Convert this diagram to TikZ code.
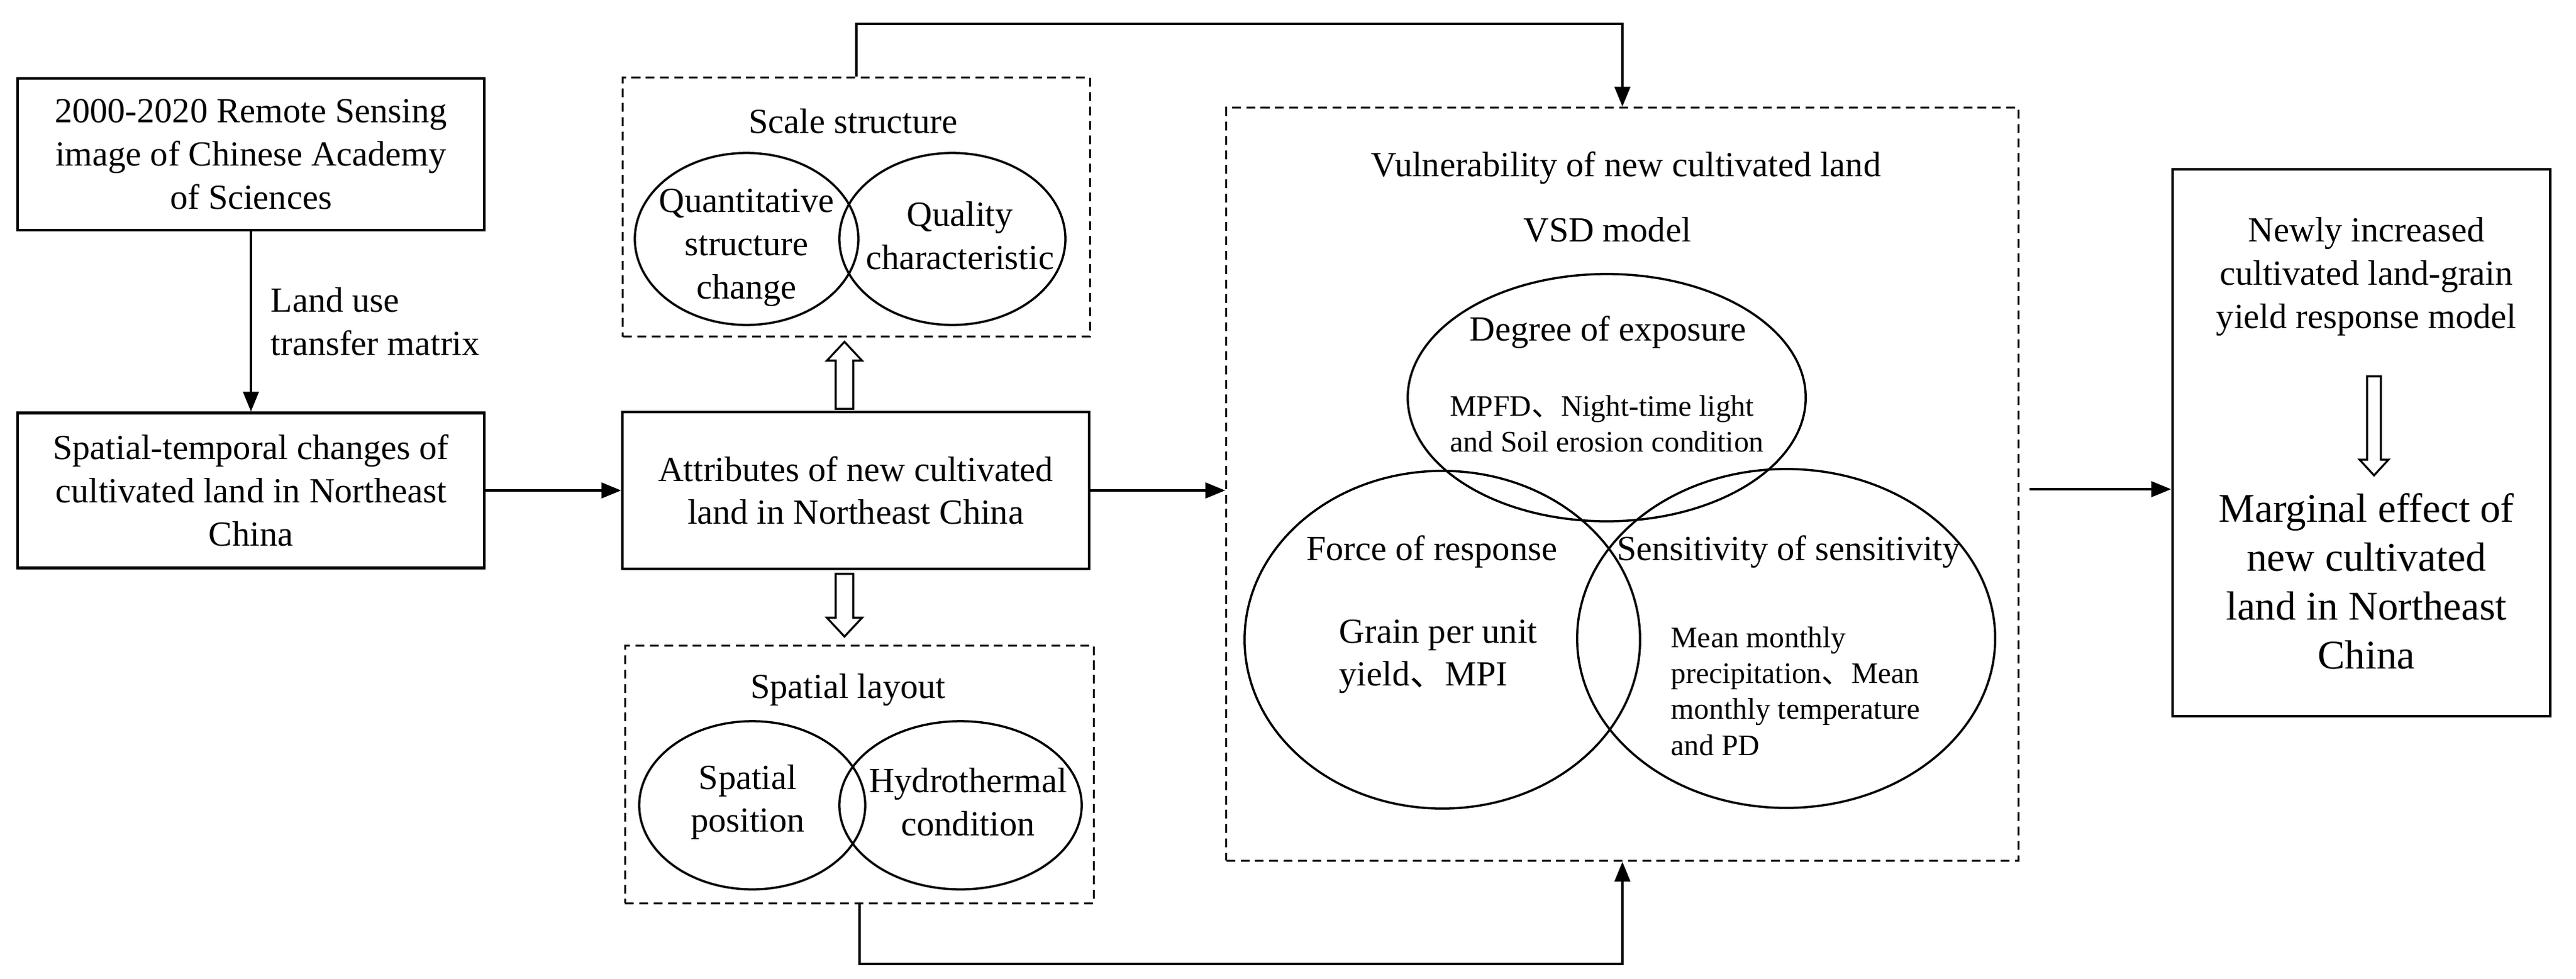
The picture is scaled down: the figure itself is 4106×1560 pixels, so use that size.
\documentclass[tikz,border=0pt]{standalone}
\usepackage{fontspec}
\setmainfont{Liberation Serif}
\newfontfamily\cjk{Noto Sans CJK SC}
\newcommand{\dun}{{\cjk 、}}
\usetikzlibrary{shapes.geometric,arrows.meta}
\begin{document}
\begin{tikzpicture}[x=0.01cm,y=-0.01cm,
  box/.style={draw,line width=1.2pt,inner sep=0,align=center},
  dbox/.style={draw,dashed,line width=0.9pt,inner sep=0,dash pattern=on 4pt off 2.5pt},
  ell/.style={draw,ellipse,line width=1pt,inner sep=0},
  txt/.style={align=center,inner sep=0,font=\fontsize{16}{19.5}\selectfont},
  stxt/.style={align=left,inner sep=0,font=\fontsize{13.5}{16.3}\selectfont},
  arr/.style={line width=1.2pt,-{Triangle[length=9pt,width=7pt]}},
  hol/.style={draw,line width=0.9pt,fill=white}]
\useasboundingbox (0,0) rectangle (4106,1560);
% left boxes
\node[box,minimum width=7.44cm,minimum height=2.42cm,txt] (b1) at (400,246) {2000-2020 Remote Sensing\\image of Chinese Academy\\of Sciences};
\node[box,minimum width=7.44cm,minimum height=2.47cm,txt] (b2) at (400,782) {Spatial-temporal changes of\\cultivated land in Northeast\\China};
\node[txt,align=left,anchor=west] (lut) at (431,513) {Land use\\transfer matrix};
% attributes
\node[box,minimum width=7.43cm,minimum height=2.5cm,txt] (b3) at (1364,782) {Attributes of new cultivated\\land in Northeast China};
% scale structure
\node[dbox,minimum width=7.44cm,minimum height=4.13cm] (sc) at (1365,330) {};
\node[txt] (sct) at (1360,193) {Scale structure};
\node[ell,minimum width=3.56cm,minimum height=2.74cm] (e1) at (1190,381) {};
\node[ell,minimum width=3.6cm,minimum height=2.74cm] (e2) at (1518,381) {};
\node[txt] (e1t) at (1190,395) {Quantitative\\structure\\change};
\node[txt] (e2t) at (1530,376) {Quality\\characteristic};
% spatial layout
\node[dbox,minimum width=7.47cm,minimum height=4.1cm] (sp) at (1370,1235) {};
\node[txt] (spt) at (1352,1100) {Spatial layout};
\node[ell,minimum width=3.6cm,minimum height=2.68cm] (e3) at (1199,1284) {};
\node[ell,minimum width=3.86cm,minimum height=2.68cm] (e4) at (1531,1284) {};
\node[txt] (e3t) at (1192,1279) {Spatial\\position};
\node[txt] (e4t) at (1543,1279) {Hydrothermal\\condition};
% hollow arrows
\draw[hol] (1332,652) -- (1360,652) -- (1360,575) -- (1374,575) -- (1346,545) -- (1318,575) -- (1332,575) -- cycle;
\draw[hol] (1332,915) -- (1360,915) -- (1360,985) -- (1374,985) -- (1346,1015) -- (1318,985) -- (1332,985) -- cycle;
% big VSD box
\node[dbox,minimum width=12.62cm,minimum height=12.0cm] (big) at (2586,772) {};
\node[txt] (vt) at (2592,268) {Vulnerability of new cultivated land};
\node[txt] (vsd) at (2562,366) {VSD model};
\node[ell,minimum width=6.34cm,minimum height=3.94cm] (ex) at (2561,634) {};
\node[ell,minimum width=6.3cm,minimum height=5.38cm] (fr) at (2299,1020) {};
\node[ell,minimum width=6.66cm,minimum height=5.4cm] (se) at (2847,1018) {};
\node[txt] (ext) at (2563,530) {Degree of exposure};
\node[stxt,anchor=west] (exd) at (2311,676) {MPFD\dun Night-time light\\and Soil erosion condition};
\node[txt] (frt) at (2282,880) {Force of response};
\node[txt,align=left,anchor=west] (frd) at (2134,1047) {Grain per unit\\yield\dun MPI};
\node[txt] (set) at (2851,880) {Sensitivity of sensitivity};
\node[stxt,anchor=west] (sed) at (2663,1102) {Mean monthly\\precipitation\dun Mean\\monthly temperature\\and PD};
% final box
\node[box,minimum width=6.02cm,minimum height=8.72cm] (fin) at (3764,706) {};
\node[txt] (fint) at (3772,441) {Newly increased\\cultivated land-grain\\yield response model};
\node[align=center,inner sep=0,font=\fontsize{18.5}{22.2}\selectfont] (mar) at (3772,927) {Marginal effect of\\new cultivated\\land in Northeast\\China};
\draw[hol] (3773,600) -- (3795,600) -- (3795,733) -- (3807,733) -- (3784,758) -- (3761,733) -- (3773,733) -- cycle;
% connectors
\coordinate (topc) at (2000,38);
\coordinate (botc) at (2000,1537);
\coordinate (outs) at (3235,780);
\draw[arr] (b1.south) -- (b2.north);
\draw[arr] (b2.east) -- (b3.west);
\draw[arr] (b3.east) -- (b3.east -| big.west);
\draw[arr] (sc.north) |- (topc) -| (big.north);
\draw[arr] (sp.south) |- (botc) -| (big.south);
\draw[arr] (outs) -- (outs -| fin.west);
\end{tikzpicture}
\end{document}
